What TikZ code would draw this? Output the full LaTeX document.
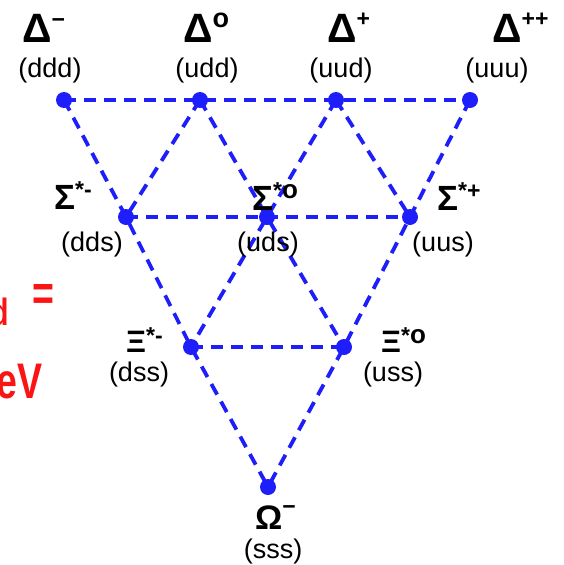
\documentclass[tikz,border=0pt]{standalone}
\usepackage{fontspec}
\setmainfont{Liberation Sans}
\usepackage{xcolor}
\usetikzlibrary{backgrounds}

\definecolor{weightblue}{RGB}{30,30,250}
\definecolor{massred}{RGB}{250,20,20}

% charge / star superscript
\newcommand{\chg}[2][12pt]{\raisebox{#1}{\fontsize{23}{23}\selectfont\bfseries #2}}

\begin{document}
\begin{tikzpicture}[
    x=1pt, y=-1pt,
    dot/.style={circle, fill=weightblue, inner sep=0pt, minimum size=16pt},
    link/.style={draw=weightblue, line width=3.8pt, dash pattern=on 12pt off 8pt},
    hname/.style={inner sep=0pt, anchor=base west, font=\fontsize{#1}{#1}\selectfont\bfseries},
    hname/.default=41,
    quark/.style={inner sep=0pt, anchor=base, font=\fontsize{27}{27}\selectfont},
    mass/.style={inner sep=0pt, text=massred, xscale=0.75, font=\bfseries\fontsize{#1}{#1}\selectfont},
    mass/.default=50
]
    \useasboundingbox (0,0) rectangle (563,565);

    % Weights of the decuplet
    \node[dot] (dm)  at (64,100) {};
    \node[dot] (d0)  at (200,100) {};
    \node[dot] (dp)  at (336,100) {};
    \node[dot] (dpp) at (470,100) {};
    \node[dot] (sm)  at (126,217) {};
    \node[dot] (s0)  at (267,217) {};
    \node[dot] (sp)  at (410,217) {};
    \node[dot] (xm)  at (191,347) {};
    \node[dot] (x0)  at (344,347) {};
    \node[dot] (om)  at (268,487) {};

    % Dashed triangle
    \begin{scope}[on background layer]
        \draw[link] (dm.center) -- (dpp.center);
        \draw[link] (sm.center) -- (sp.center);
        \draw[link] (xm.center) -- (x0.center);
        \draw[link] (dm.center) -- (sm.center) -- (xm.center) -- (om.center);
        \draw[link] (dpp.center) -- (sp.center) -- (x0.center) -- (om.center);
        \draw[link] (d0.center) -- (sm.center);
        \draw[link] (d0.center) -- (s0.center) -- (x0.center);
        \draw[link] (dp.center) -- (s0.center) -- (xm.center);
        \draw[link] (dp.center) -- (sp.center);
    \end{scope}

    % Delta row
    \node[hname] (dmname)  at (22,42)  {Δ\chg[15pt]{−}};
    \node[hname] (d0name)  at (183,42) {Δ\chg[15pt]{\fontsize{27}{27}\selectfont o}};
    \node[hname] (dpname)  at (327,42) {Δ\chg[16pt]{+}};
    \node[hname] (dppname) at (492,42) {Δ\chg[16pt]{++}};
    \node[quark] (dmq)  at (50,77)  {(ddd)};
    \node[quark] (d0q)  at (207,77) {(udd)};
    \node[quark] (dpq)  at (341,77) {(uud)};
    \node[quark] (dppq) at (497,77) {(uuu)};

    % Sigma row
    \node[hname=35] (smname) at (54,209)  {Σ\chg{*-}};
    \node[hname=35] (s0name) at (252,210) {Σ\chg{*\fontsize{26}{26}\selectfont o}};
    \node[hname=35] (spname) at (437,210) {Σ\chg{*+}};
    \node[quark] (smq) at (92,251)  {(dds)};
    \node[quark] (s0q) at (268,251) {(uds)};
    \node[quark] (spq) at (443,251) {(uus)};

    % Xi row
    \node[hname=31] (xmname) at (126,352) {Ξ\chg[9pt]{*-}};
    \node[hname=31] (x0name) at (381,352) {Ξ\chg[9pt]{*\fontsize{26}{26}\selectfont o}};
    \node[quark] (xmq) at (139,381) {(dss)};
    \node[quark] (x0q) at (393,381) {(uss)};

    % Omega
    \node[hname=34] (omname) at (255,529) {Ω\chg[15pt]{−}};
    \node[quark] (omq) at (273,558) {(sss)};

    % Mass text cut at the left edge
    \node[mass=38, anchor=base east] (msub)  at (9,325)  {d};
    \node[mass] (meq) at (43,297) {=};
    \node[mass, anchor=base east] (munit) at (43,398) {eV};
\end{tikzpicture}
\end{document}
